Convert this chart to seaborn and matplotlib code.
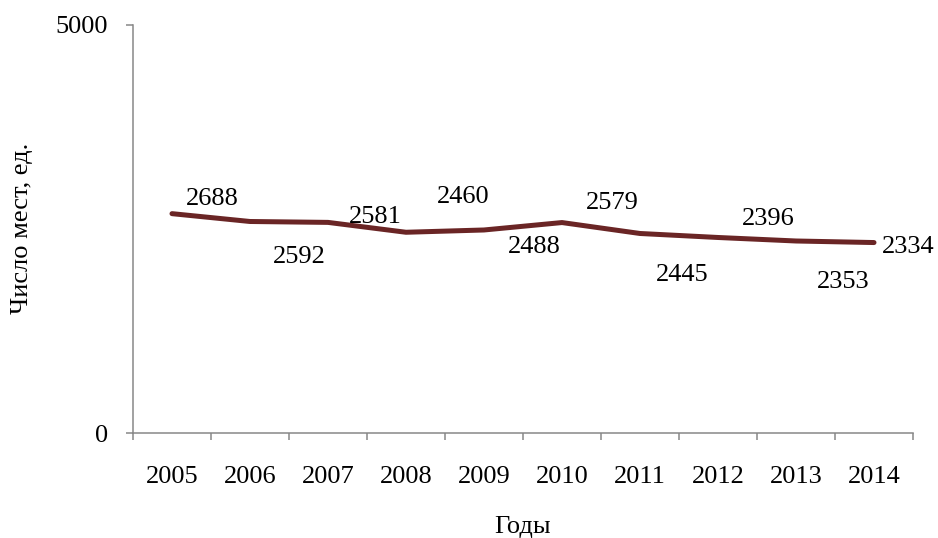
import matplotlib
matplotlib.use("Agg")
import matplotlib.pyplot as plt
import seaborn as sns
import pandas as pd

years = ["2005", "2006", "2007", "2008", "2009", "2010", "2011", "2012", "2013", "2014"]
places = [2688, 2592, 2581, 2460, 2488, 2579, 2445, 2396, 2353, 2334]

# label placement relative to each point, in pixels (dx, baseline dy downward)
label_dx = [40.5, 49, 47, 57, 50, 50, 42, 50, 47, 34]
label_dy = [-8.7, 41.5, 0.6, -29.3, 23.3, -13.6, 47.5, -12.5, 47, 10.5]

sns.set_theme(style="white")
plt.rcParams["font.family"] = ["Liberation Serif", "DejaVu Serif"]

W, H = 938, 538
FS = 19

df = pd.DataFrame({"Год": years, "Места": places})

fig = plt.figure(figsize=(W / 100, H / 100), dpi=100)
ax = fig.add_axes([133 / W, 1 - 433 / H, 780 / W, 408 / H])

sns.lineplot(data=df, x="Год", y="Места", ax=ax, color="#6A2525",
             linewidth=3.6, solid_capstyle="round", sort=False)

ax.set_ylim(0, 5000)
ax.set_xlim(-0.5, len(years) - 0.5)
ax.set_yticks([0, 5000])
ax.set_yticklabels(["0", "5000"])
ax.set_xticks(range(len(years)))
ax.set_xticklabels(years)
ax.set_xticks([i - 0.5 for i in range(len(years) + 1)], minor=True)

grey = "#878787"
for side in ["top", "right"]:
    ax.spines[side].set_visible(False)
for side in ["left", "bottom"]:
    ax.spines[side].set_color(grey)
    ax.spines[side].set_linewidth(1.1)

ax.tick_params(axis="x", which="major", length=0, pad=23.5, labelsize=FS, colors="black")
ax.tick_params(axis="x", which="minor", bottom=True, length=5, width=1.1, color=grey, direction="out")
ax.tick_params(axis="y", which="major", left=True, length=5, width=1.1, color=grey,
               direction="out", pad=13, labelsize=FS, labelcolor="black")

for i, v in enumerate(places):
    ax.annotate(f"{v}", xy=(i, v), xytext=(label_dx[i], -label_dy[i]),
                textcoords="offset pixels", ha="center", va="baseline",
                fontsize=FS, color="black")

ax.set_xlabel("")
ax.set_ylabel("")
fig.text(523 / W, 1 - 533 / H, "Годы", fontsize=FS, ha="center", va="baseline", color="black")
fig.text(22 / W, 1 - 228 / H, "Число мест, ед.", fontsize=FS, ha="center", va="center",
         rotation=90, color="black")

fig.savefig("out.png", dpi=100)
